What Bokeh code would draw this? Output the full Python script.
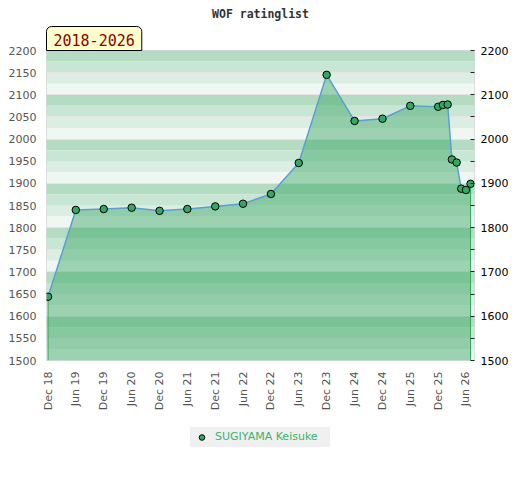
import calendar
import math
from datetime import datetime

from bokeh.plotting import figure
from bokeh.layouts import column
from bokeh.models import (Range1d, LinearAxis, FixedTicker, DatetimeTickFormatter,
                          BoxAnnotation, Title, Legend, LegendItem)
from bokeh.embed import file_html
from bokeh.resources import INLINE

# ---------------- data ----------------
chart_title = "WOF ratinglist"
period_label = "2018-2026"
player = "SUGIYAMA Keisuke"

dates = ["2018-12-01", "2019-06-01", "2019-12-01", "2020-06-01", "2020-12-01",
         "2021-06-01", "2021-12-01", "2022-06-01", "2022-12-01", "2023-06-01",
         "2023-12-01", "2024-06-01", "2024-12-01", "2025-06-01", "2025-12-01",
         "2026-01-01", "2026-02-01", "2026-03-01", "2026-04-01", "2026-05-01",
         "2026-06-01", "2026-07-01"]
ratings = [1644, 1840, 1842, 1845, 1838,
           1842, 1848, 1854, 1876, 1946,
           2145, 2041, 2046, 2075, 2073,
           2077, 2078, 1954, 1947, 1888,
           1885, 1899]

x_tick_dates = ["2018-12-01", "2019-06-01", "2019-12-01", "2020-06-01",
                "2020-12-01", "2021-06-01", "2021-12-01", "2022-06-01",
                "2022-12-01", "2023-06-01", "2023-12-01", "2024-06-01",
                "2024-12-01", "2025-06-01", "2025-12-01", "2026-06-01"]
y_left_ticks = list(range(1500, 2201, 50))
y_right_major = list(range(1500, 2201, 100))
y_right_minor = list(range(1550, 2200, 100))
y_min, y_max = 1500, 2200


def ms(s):
    return calendar.timegm(datetime.strptime(s, "%Y-%m-%d").timetuple()) * 1000.0


xs = [ms(d) for d in dates]
x_start, x_end = ms("2018-11-21"), ms("2026-07-27")

W = 511
BL, BR = 46, 36

# ---------------- main figure ----------------
p = figure(width=W, height=416, x_axis_type="datetime",
           x_range=Range1d(x_start, x_end), y_range=Range1d(y_min, y_max),
           output_backend="svg", toolbar_location=None,
           min_border_left=BL, min_border_right=BR,
           min_border_top=50, min_border_bottom=56)
p.background_fill_color = "white"
p.border_fill_color = "white"
p.outline_line_color = "#d8d8d8"
p.outline_line_width = 1

# background bands, 25 points each, darkest at the top of every 100 block
band_colors = ["#b3dcc3", "#c8e6d4", "#dceee4", "#eff7f2"]
for i, b in enumerate(range(y_max - 25, y_min - 1, -25)):
    p.add_layout(BoxAnnotation(bottom=b, top=b + 25, fill_color=band_colors[i % 4],
                               fill_alpha=1.0, line_color=None, level="image"))

p.xgrid.grid_line_color = None
p.ygrid.ticker = FixedTicker(ticks=y_left_ticks)
p.ygrid.grid_line_color = "#e4e4e4"
p.ygrid.grid_line_width = 1

# area, edges, line, points
p.varea(x=xs, y1=y_min, y2=ratings, fill_color="#32a45d", fill_alpha=0.44)
p.segment(x0=[xs[0], xs[-1]], y0=[y_min, y_min], x1=[xs[0], xs[-1]],
          y1=[ratings[0], ratings[-1]], line_color="#2eaa5a", line_width=1)
p.line(xs, ratings, line_color="#5a9fd4", line_width=1.5)
p.scatter(xs, ratings, size=7.5, fill_color="#34a862", line_color="black",
          line_width=1)

# x axis
xa = p.xaxis[0]
xa.ticker = FixedTicker(ticks=[ms(d) for d in x_tick_dates])
fmt = "%b %y"
xa.formatter = DatetimeTickFormatter(milliseconds=fmt, seconds=fmt, minsec=fmt,
                                     minutes=fmt, hourmin=fmt, hours=fmt, days=fmt,
                                     months=fmt, years=fmt)
xa.major_label_orientation = math.pi / 2
xa.major_label_text_font = "DejaVu Sans"
xa.major_label_text_font_size = "11px"
xa.major_label_text_color = "#555555"
xa.major_label_standoff = 11
xa.axis_line_color = None
xa.major_tick_line_color = None
xa.minor_tick_line_color = None
xa.major_tick_out = 0
xa.minor_tick_out = 0

# left axis
ya = p.yaxis[0]
ya.ticker = FixedTicker(ticks=y_left_ticks)
ya.major_label_text_font = "DejaVu Sans"
ya.major_label_text_font_size = "11px"
ya.major_label_text_color = "#555555"
ya.major_label_standoff = 10
ya.axis_line_color = None
ya.major_tick_line_color = None
ya.minor_tick_line_color = None
ya.major_tick_out = 0
ya.minor_tick_out = 0

# right axis
ra = LinearAxis(ticker=FixedTicker(ticks=y_right_major, minor_ticks=y_right_minor))
ra.major_label_text_font = "DejaVu Sans"
ra.major_label_text_font_size = "11px"
ra.major_label_text_color = "#000000"
ra.major_label_standoff = 6
ra.axis_line_color = None
ra.major_tick_in = 4
ra.major_tick_out = 0
ra.minor_tick_in = 4
ra.minor_tick_out = 0
ra.major_tick_line_color = "#222222"
ra.minor_tick_line_color = "#222222"
p.add_layout(ra, "right")

# period box (closest to the frame) and chart title above it
p.title.visible = False
p.add_layout(Title(text=period_label, align="left", standoff=0, offset=0,
                   text_font="DejaVu Sans Mono", text_font_size="15px",
                   text_font_style="normal",
                   text_color="#8b0000", background_fill_color="#ffffcc",
                   background_fill_alpha=1.0, border_line_color="#000000",
                   border_line_width=1,
                   padding=dict(left=7, right=7, top=7, bottom=5),
                   border_radius=dict(top_left=5, top_right=5,
                                      bottom_right=0, bottom_left=0)), "above")
p.add_layout(Title(text=chart_title, align="center", standoff=7,
                   text_font="DejaVu Sans Mono", text_font_style="bold",
                   text_font_size="11.5px", text_color="#333333"), "above")

# ---------------- legend strip below ----------------
q = figure(width=W, height=41, x_range=Range1d(0, 1), y_range=Range1d(0, 1),
           x_axis_location=None, y_axis_location=None,
           output_backend="svg", toolbar_location=None,
           min_border_left=BL, min_border_right=BR,
           min_border_top=0, min_border_bottom=0)
q.outline_line_color = None
q.grid.visible = False
q.background_fill_color = "white"
q.border_fill_color = "white"
marker = q.scatter(xs, ratings, size=7.5, fill_color="#34a862", line_color="black",
                   line_width=1)

legend = Legend(items=[LegendItem(label=player, renderers=[marker])],
                location="center", orientation="horizontal",
                background_fill_color="#f0f0f0", background_fill_alpha=1.0,
                border_line_color=None, padding=0, margin=0, spacing=0,
                glyph_width=23, glyph_height=14, label_height=20, label_width=115,
                label_standoff=2, label_text_font="DejaVu Sans",
                label_text_font_size="11px", label_text_color="#3cb371")
q.add_layout(legend, "center")

layout = column(p, q, spacing=0)
open("out.html", "w").write(file_html(layout, INLINE))
